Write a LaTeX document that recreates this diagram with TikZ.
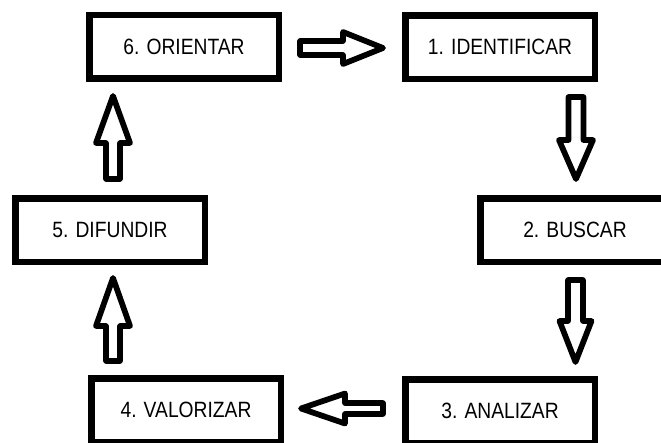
\documentclass[tikz,border=0pt]{standalone}
\usepackage{fontspec}
\setmainfont[FakeStretch=0.87]{Liberation Sans}
\usetikzlibrary{calc}
\tikzset{
  stage/.style={draw=black, line width=4.875pt, rectangle,
    minimum width=142.125pt, minimum height=47.625pt, inner sep=0pt,
    font=\fontsize{16.6pt}{19pt}\selectfont, text=black},
  arrowline/.style={draw=black, line width=4.3pt, line join=round, fill=white},
}
% Hollow block arrow: #1 tail, #2 tip, #3 head length,
% #4 half shaft width, #5 half head width
\newcommand\blockarrow[5]{%
  \draw[arrowline]
    ($(#1)!#4!90:(#2)$)
    -- ($(#2)!#3!(#1)!#4!-90:(#1)$)
    -- ($(#2)!#3!(#1)!#5!-90:(#1)$)
    -- (#2)
    -- ($(#2)!#3!(#1)!#5!90:(#1)$)
    -- ($(#2)!#3!(#1)!#4!90:(#1)$)
    -- ($(#1)!#4!-90:(#2)$)
    -- cycle;}
\begin{document}
\begin{tikzpicture}[x=0.75pt, y=-0.75pt]
  \useasboundingbox (0,0) rectangle (661,443);
  \fill[white] (0,0) rectangle (661,443);

  % the six stages of the cycle
  \node[stage] (n6) at (184,46.5) {6. ORIENTAR};
  \node[stage] (n1) at (500,47)   {1. IDENTIFICAR};
  \node[stage] (n2) at (575,230)  {2. BUSCAR};
  \node[stage] (n3) at (500,411)  {3. ANALIZAR};
  \node[stage] (n4) at (186,410)  {4. VALORIZAR};
  \node[stage] (n5) at (110,230)  {5. DIFUNDIR};

  % arrow ends, placed relative to the stages they join
  \coordinate (t61) at ($(n6)+(116,1.5)$);
  \coordinate (h61) at ($(n1)+(-117,1)$);
  \coordinate (t12) at ($(n1)+(76,50)$);
  \coordinate (h12) at ($(n2)+(1,-51)$);
  \coordinate (t23) at ($(n2)+(0.5,50)$);
  \coordinate (h23) at ($(n3)+(75.5,-49)$);
  \coordinate (t34) at ($(n3)+(-117,-2.5)$);
  \coordinate (h34) at ($(n4)+(115,-1.5)$);
  \coordinate (t45) at ($(n4)+(-73,-49)$);
  \coordinate (h45) at ($(n5)+(3,48)$);
  \coordinate (t56) at ($(n5)+(3,-51)$);
  \coordinate (h56) at ($(n6)+(-71,49.5)$);

  \blockarrow{t61}{h61}{30pt}{5.25pt}{12pt}
  \blockarrow{t12}{h12}{29.25pt}{5.6pt}{12.75pt}
  \blockarrow{t23}{h23}{30.75pt}{5.6pt}{12pt}
  \blockarrow{t34}{h34}{33pt}{4.1pt}{11.25pt}
  \blockarrow{t45}{h45}{36pt}{5.25pt}{12.75pt}
  \blockarrow{t56}{h56}{35.25pt}{5.25pt}{12.75pt}
\end{tikzpicture}
\end{document}
